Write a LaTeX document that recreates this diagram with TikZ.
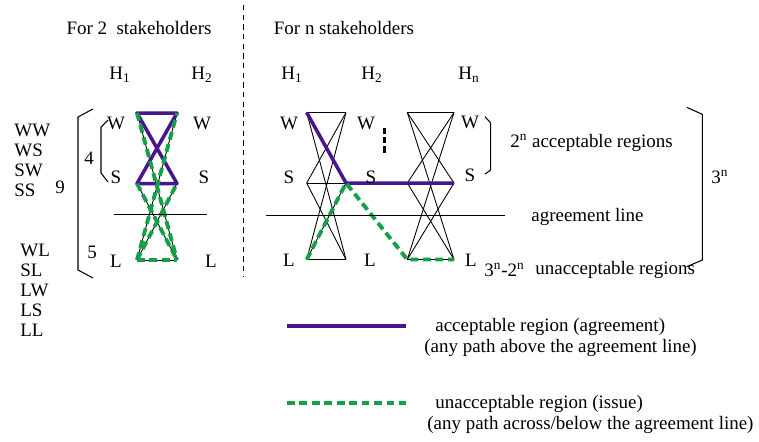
\documentclass[tikz,border=0pt]{standalone}
\usepackage{fontspec}
\setmainfont{Liberation Serif}
\definecolor{agreepurple}{RGB}{72,22,140}
\definecolor{issuegreen}{RGB}{20,160,70}
\tikzset{
  txt/.style={inner sep=0pt, font=\fontsize{10.8}{13}\selectfont},
  edge/.style={black, line width=0.5pt},
  agree/.style={agreepurple, line width=2pt},
  issue/.style={issuegreen, line width=2.2pt, dash pattern=on 4.5pt off 2.6pt},
  brace/.style={black, line width=0.6pt},
}
\begin{document}
\begin{tikzpicture}[x=0.02cm, y=-0.02cm]
\useasboundingbox (0,0) rectangle (759,441);
%% --- titles and divider ---
\node[txt] (tleft) at (139,28) {For 2\ \ stakeholders};
\node[txt] (tright) at (344,28) {For n stakeholders};
\draw[black, line width=0.5pt, dash pattern=on 3pt off 2.5pt] (243,5) -- (243,276);

%% --- left panel: 2 stakeholders ---
\foreach \r/\y in {w/113, s/183.5, l/260}{
  \coordinate (a\r) at (137,\y);
  \coordinate (b\r) at (177,\y);
}
\foreach \i in {w,s,l}{
  \foreach \j in {w,s,l}{
    \draw[edge] (a\i) -- (b\j);
  }
}
\draw[agree, line join=round] (aw) -- (bw) -- (as) -- (bs) -- cycle;
\draw[issue] (aw) -- (bl);
\draw[issue] (as) -- (bl);
\draw[issue] (al) -- (bw);
\draw[issue] (al) -- (bs);
\draw[issue] (al) -- (bl);
\draw[edge] (114,214) -- (207,214);

\node[txt] (lh1) at (120,75) {H\textsubscript{1}};
\node[txt] (lh2) at (202,75) {H\textsubscript{2}};
\foreach \t/\y/\n in {W/123/w, S/177/s, L/261/l}{
  \node[txt] (la\n) at (116,\y) {\t};
}
\node[txt] (lbw) at (202,123) {W};
\node[txt] (lbs) at (204,177) {S};
\node[txt] (lbl) at (211,261) {L};

%% --- combinations and brackets ---
\foreach \t/\y in {WW/130, WS/150, SW/170, SS/190}{
  \node[txt, anchor=west] (c\t) at (14,\y) {\t};
}
\foreach \t/\y in {WL/250, SL/270, LW/290, LS/310, LL/330}{
  \node[txt, anchor=west] (c\t) at (20,\y) {\t};
}
\draw[brace] (93,109) -- (78,117) -- (78,270) -- (93,278);
\draw[brace] (108,120) -- (101,127) -- (101,173) -- (108,182);
\node[txt] (nine) at (60,187) {9};
\node[txt] (four) at (89,158) {4};
\node[txt] (five) at (92,252) {5};

%% --- right panel: n stakeholders ---
\foreach \k/\x in {1/306.7, 2/346, 3/407.3, 4/454}{
  \coordinate (n\k w) at (\x,112.5);
  \coordinate (n\k s) at (\x,183);
  \coordinate (n\k l) at (\x,259.5);
}
\foreach \i in {w,s,l}{
  \foreach \j in {w,s,l}{
    \draw[edge] (n1\i) -- (n2\j);
    \draw[edge] (n3\i) -- (n4\j);
  }
}
\draw[agree, line join=round] (n1w) -- (n2s) -- (n4s);
\draw[issue] (n1l) -- (n2s) -- (n3l) -- (n4l);
\draw[black, line width=2pt, dash pattern=on 3.5pt off 1.75pt] (384.3,128) -- (384.3,153);
\draw[edge] (266,215) -- (505,215);

\node[txt] (rh1) at (292,75) {H\textsubscript{1}};
\node[txt] (rh2) at (372,75) {H\textsubscript{2}};
\node[txt] (rhn) at (469,75) {H\textsubscript{n}};
\node[txt] (r1w) at (289,123) {W};
\node[txt] (r1s) at (289,177) {S};
\node[txt] (r1l) at (289,260) {L};
\node[txt] (r2w) at (366,123) {W};
\node[txt] (r2s) at (371,177) {S};
\node[txt] (r2l) at (370,260) {L};
\node[txt] (r4w) at (470,122) {W};
\node[txt] (r4s) at (470,175) {S};
\node[txt] (r4l) at (471,260) {L};

\draw[brace] (485,116.7) -- (490.7,123) -- (490.7,170) -- (485,174);
\draw[brace] (686.7,107.3) -- (702.3,114.3) -- (702.3,260) -- (686.7,266.7);
\node[txt, anchor=west] (accn) at (510,143) {2\textsuperscript{n} acceptable regions};
\node[txt, anchor=west] (alltot) at (711,177) {3\textsuperscript{n}};
\node[txt, anchor=west] (agline) at (531,216.5) {agreement line};
\node[txt, anchor=west] (unaccn) at (484,270) {3\textsuperscript{n}-2\textsuperscript{n}};
\node[txt, anchor=west] (unacc) at (535,270) {unacceptable regions};

%% --- legend ---
\coordinate (ka) at (286.7,326);
\coordinate (kb) at (406,326);
\coordinate (kc) at (286.7,403.3);
\coordinate (kd) at (406,403.3);
\draw[agree] (ka) -- (kb);
\draw[issue] (kc) -- (kd);
\node[txt, anchor=west] (agree1) at (435,326.5) {acceptable region (agreement)};
\node[txt, anchor=west] (agree2) at (424,347.5) {(any path above the agreement line)};
\node[txt, anchor=west] (issue1) at (435,404) {unacceptable region (issue)};
\node[txt, anchor=west] (issue2) at (427,425) {(any path across/below the agreement line)};
\end{tikzpicture}
\end{document}
